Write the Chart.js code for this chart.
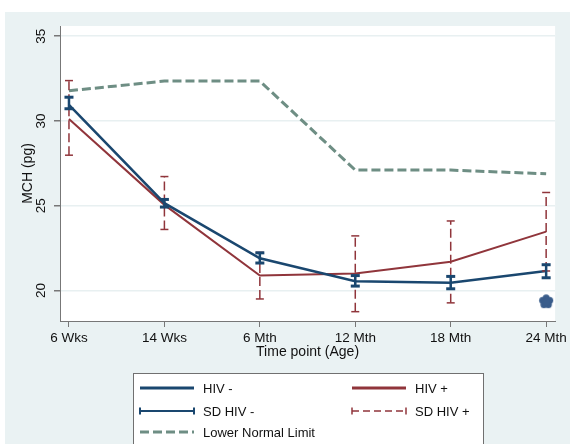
<!DOCTYPE html>
<html>
<head>
<meta charset="utf-8">
<script src="https://cdn.jsdelivr.net/npm/chart.js@4"></script>
<style>
html, body { margin: 0; padding: 0; background: #fff; }
#wrap { width: 570px; height: 444px; }
</style>
</head>
<body>
<div id="wrap"><canvas id="mchChart" width="570" height="444"></canvas></div>
<script>
// values
const timePoints = ['6 Wks', '14 Wks', '6 Mth', '12 Mth', '18 Mth', '24 Mth'];
const hivNeg = [30.95, 25.15, 21.9, 20.55, 20.45, 21.15];
const hivNegLow = [30.72, 24.92, 21.62, 20.26, 20.1, 20.75];
const hivNegHigh = [31.4, 25.37, 22.22, 20.88, 20.83, 21.52];
const hivPos = [30.12, 25.05, 20.88, 21.0, 21.7, 23.47];
const hivPosLow = [27.98, 23.6, 19.5, 18.75, 19.27, 21.15];
const hivPosHigh = [32.38, 26.72, 22.25, 23.22, 24.1, 25.78];
const lowerNormal = [31.78, 32.35, 32.35, 27.1, 27.1, 26.88];
const sigTime = [5];
const sigValue = [19.37];
const yTicks = [20, 25, 30, 35];

const navy = '#1a476f';
const maroon = '#90353b';
const teal = '#6e8e84';
const starBlue = '#3a5d8b';

Chart.defaults.font.family = "'Liberation Sans', Arial, sans-serif";
Chart.defaults.color = '#111';

function toPoints(values) {
    const points = [];
    for (let i = 0; i < values.length; i++) {
        points.push({ x: i, y: values[i] });
    }
    return points;
}

function sigPoints() {
    const points = [];
    for (let i = 0; i < sigTime.length; i++) {
        points.push({ x: sigTime[i], y: sigValue[i] });
    }
    return points;
}

// five lobed marker used for the significance symbol
function flowerMarker() {
    const c = document.createElement('canvas');
    c.width = 16;
    c.height = 16;
    const g = c.getContext('2d');
    g.fillStyle = starBlue;
    for (let k = 0; k < 5; k++) {
        const a = -Math.PI / 2 + k * 2 * Math.PI / 5;
        g.beginPath();
        g.arc(8 + 3.7 * Math.cos(a), 8.4 + 3.7 * Math.sin(a), 3.5, 0, 2 * Math.PI);
        g.fill();
    }
    g.beginPath();
    g.arc(8, 8.4, 4.2, 0, 2 * Math.PI);
    g.fill();
    return c;
}

function strokeLine(ctx, x1, y1, x2, y2) {
    ctx.beginPath();
    ctx.moveTo(x1, y1);
    ctx.lineTo(x2, y2);
    ctx.stroke();
}

// backgrounds: stata style outer region + white plot region
const backdrop = {
    id: 'backdrop',
    beforeDraw(chart) {
        const ctx = chart.ctx;
        const a = chart.chartArea;
        ctx.save();
        ctx.fillStyle = '#fff';
        ctx.fillRect(0, 0, chart.width, chart.height);
        ctx.fillStyle = '#eaf2f3';
        ctx.fillRect(5, 12, chart.width - 5, chart.height - 12);
        ctx.fillStyle = '#fff';
        ctx.fillRect(a.left, a.top, a.right - a.left, a.bottom - a.top);
        ctx.restore();
    }
};

// SD bars
const errorBars = {
    id: 'errorBars',
    afterDatasetsDraw(chart) {
        const ctx = chart.ctx;
        const xs = chart.scales.x;
        const ys = chart.scales.y;
        ctx.save();
        for (let i = 0; i < timePoints.length; i++) {
            const x = xs.getPixelForValue(i);
            const lo = ys.getPixelForValue(hivPosLow[i]);
            const hi = ys.getPixelForValue(hivPosHigh[i]);
            ctx.strokeStyle = maroon;
            ctx.lineWidth = 1.5;
            ctx.setLineDash([9, 4]);
            strokeLine(ctx, x, lo, x, hi);
            ctx.setLineDash([]);
            strokeLine(ctx, x - 4, lo, x + 4, lo);
            strokeLine(ctx, x - 4, hi, x + 4, hi);
        }
        for (let i = 0; i < timePoints.length; i++) {
            const x = xs.getPixelForValue(i);
            const lo = ys.getPixelForValue(hivNegLow[i]);
            const hi = ys.getPixelForValue(hivNegHigh[i]);
            ctx.strokeStyle = navy;
            ctx.lineWidth = 2.5;
            strokeLine(ctx, x, lo, x, hi);
            ctx.lineWidth = 3;
            strokeLine(ctx, x - 4.5, lo, x + 4.5, lo);
            strokeLine(ctx, x - 4.5, hi, x + 4.5, hi);
        }
        ctx.restore();
    }
};

// legend box under the plot
const legendBox = {
    id: 'legendBox',
    afterDraw(chart) {
        const ctx = chart.ctx;
        ctx.save();
        ctx.fillStyle = '#fff';
        ctx.fillRect(133.5, 373.5, 350, 80);
        ctx.strokeStyle = '#707070';
        ctx.lineWidth = 1;
        ctx.strokeRect(133.5, 373.5, 350, 80);

        const cols = [140, 352];
        const rows = [388, 411, 432];
        const items = [
            { label: 'HIV -', col: 0, row: 0, color: navy, width: 3, dash: [], caps: false },
            { label: 'HIV +', col: 1, row: 0, color: maroon, width: 3, dash: [], caps: false },
            { label: 'SD HIV -', col: 0, row: 1, color: navy, width: 2, dash: [], caps: true },
            { label: 'SD HIV +', col: 1, row: 1, color: maroon, width: 1.5, dash: [7, 4], caps: true },
            { label: 'Lower Normal Limit', col: 0, row: 2, color: teal, width: 3, dash: [9, 4], caps: false }
        ];

        ctx.font = "13px 'Liberation Sans', Arial, sans-serif";
        ctx.textBaseline = 'middle';
        ctx.textAlign = 'left';
        items.forEach(function(it) {
            const x0 = cols[it.col];
            const x1 = x0 + 54;
            const y = rows[it.row];
            ctx.strokeStyle = it.color;
            ctx.lineWidth = it.width;
            ctx.setLineDash(it.dash);
            strokeLine(ctx, x0, y, x1, y);
            ctx.setLineDash([]);
            if (it.caps) {
                strokeLine(ctx, x0, y - 3.5, x0, y + 3.5);
                strokeLine(ctx, x1, y - 3.5, x1, y + 3.5);
            }
            ctx.fillStyle = '#111';
            ctx.fillText(it.label, x0 + 63, y + 1);
        });
        ctx.restore();
    }
};

const ctxMch = document.getElementById('mchChart');

new Chart(ctxMch, {
    type: 'line',
    data: {
        datasets: [
            {
                label: 'Lower Normal Limit',
                data: toPoints(lowerNormal),
                borderColor: teal,
                borderWidth: 3,
                borderDash: [9, 4],
                pointRadius: 0,
                tension: 0
            },
            {
                label: 'HIV -',
                data: toPoints(hivNeg),
                borderColor: navy,
                borderWidth: 2.5,
                pointRadius: 0,
                tension: 0
            },
            {
                label: 'HIV +',
                data: toPoints(hivPos),
                borderColor: maroon,
                borderWidth: 2,
                pointRadius: 0,
                tension: 0
            },
            {
                label: 'significant',
                data: sigPoints(),
                showLine: false,
                pointStyle: flowerMarker(),
                pointRadius: 8
            }
        ]
    },
    options: {
        responsive: false,
        animation: false,
        devicePixelRatio: 1,
        layout: { padding: { top: 26, right: 12, left: 0, bottom: 0 } },
        plugins: {
            legend: { display: false },
            tooltip: { enabled: false }
        },
        scales: {
            x: {
                type: 'linear',
                min: -0.094,
                max: 5.094,
                afterBuildTicks: function(scale) {
                    scale.ticks = timePoints.map(function(t, i) { return { value: i }; });
                },
                afterFit: function(scale) { scale.height = 123; },
                ticks: {
                    callback: function(v) { return timePoints[v]; },
                    autoSkip: false,
                    maxRotation: 0,
                    padding: 3,
                    font: { size: 13.5 },
                    color: '#111'
                },
                grid: { drawOnChartArea: false, tickLength: 6, tickColor: '#777' },
                border: { color: '#777', width: 1 },
                title: {
                    display: true,
                    text: 'Time point (Age)',
                    font: { size: 14 },
                    color: '#111',
                    padding: { top: 0, bottom: 83.6 }
                }
            },
            y: {
                min: 18.2,
                max: 35.6,
                afterBuildTicks: function(scale) {
                    scale.ticks = yTicks.map(function(v) { return { value: v }; });
                },
                afterFit: function(scale) { scale.width = 60; },
                ticks: {
                    minRotation: 90,
                    maxRotation: 90,
                    crossAlign: 'center',
                    padding: 5,
                    font: { size: 13.5 },
                    color: '#111'
                },
                grid: { color: '#e8f0f1', lineWidth: 1.5, tickLength: 6, tickColor: '#777' },
                border: { color: '#777', width: 1 },
                title: {
                    display: true,
                    text: 'MCH (pg)',
                    font: { size: 14 },
                    color: '#111',
                    padding: { top: 19.6, bottom: 0 }
                }
            }
        }
    },
    plugins: [backdrop, errorBars, legendBox]
});
</script>
</body>
</html>
